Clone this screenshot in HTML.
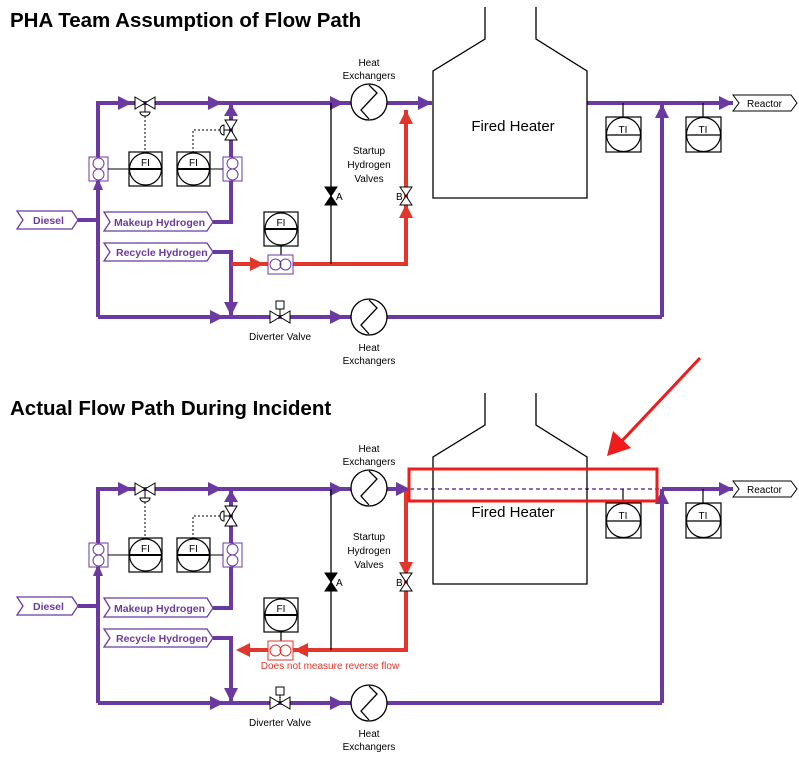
<!DOCTYPE html>
<html><head><meta charset="utf-8"><style>
html,body{margin:0;padding:0;background:#fff;}
svg{display:block;font-family:"Liberation Sans",sans-serif;}
</style></head><body>
<svg width="799" height="757" viewBox="0 0 799 757" xmlns="http://www.w3.org/2000/svg">
<text x="10" y="27" font-size="20.5" font-weight="bold" fill="#000">PHA Team Assumption of Flow Path</text>
<text x="10" y="415" font-size="20.5" font-weight="bold" fill="#000">Actual Flow Path During Incident</text>

<g id="top" fill="none" stroke-linejoin="miter">
  <g stroke="#6b3aa0" stroke-width="4">
    <polyline points="98,317 98,103 432,103"/>
    <line x1="78" y1="220" x2="98" y2="220"/>
    <polyline points="213,222 231,222 231,103"/>
    <polyline points="213,252 231,252 231,317"/>
    <line x1="98" y1="317" x2="662" y2="317"/>
    <line x1="662" y1="317" x2="662" y2="103"/>
    <line x1="587" y1="103" x2="733" y2="103"/>
  </g>
  <g stroke="#e0362b" stroke-width="4">
    <polyline points="231,264 406,264 406,110"/>
  </g>
  <g fill="#6b3aa0">
    <polygon points="93,190 98,178 103,190"/>
    <polygon points="118,96 132,103 118,110"/>
    <polygon points="208,96 222,103 208,110"/>
    <polygon points="224,116 231,104 238,116"/>
    <polygon points="330,96 344,103 330,110"/>
    <polygon points="418,96 432,103 418,110"/>
    <polygon points="210,310 224,317 210,324"/>
    <polygon points="224,302 231,316 238,302"/>
    <polygon points="330,310 344,317 330,324"/>
    <polygon points="655,118 662,104 669,118"/>
    <polygon points="719,96 733,103 719,110"/>
  </g>
  <g fill="#e0362b">
    <polygon points="250,257 264,264 250,271"/>
    <polygon points="399,124 406,110 413,124"/>
    <polygon points="399,218 406,204 413,218"/>
  </g>
  <line x1="331" y1="103" x2="331" y2="264" stroke="#000" stroke-width="1.3"/>
  <polygon points="325,187 337,187 331,196 325,205 337,205 331,196" fill="#000" stroke="#000"/>
  <text x="336" y="200" font-size="10" fill="#000" stroke="none">A</text>
  <polygon points="400,187 412,187 406,196 400,205 412,205 406,196" fill="#fff" stroke="#000"/>
  <text x="396" y="200" font-size="10" fill="#000" stroke="none">B</text>
  <circle cx="369" cy="102" r="18" fill="#fff" stroke="#000" stroke-width="1.3"/>
  <polyline points="369,85 377,93 361,110 369,119" stroke="#000" stroke-width="1.3"/>
  <text x="369" y="66" font-size="10" text-anchor="middle" fill="#000" stroke="none">Heat</text>
  <text x="369" y="79" font-size="10" text-anchor="middle" fill="#000" stroke="none">Exchangers</text>
  <g font-size="10" text-anchor="middle" fill="#000" stroke="none">
    <text x="369" y="154">Startup</text><text x="369" y="168">Hydrogen</text><text x="369" y="182">Valves</text>
  </g>
  <circle cx="369" cy="317" r="18" fill="#fff" stroke="#000" stroke-width="1.3"/>
  <polyline points="369,300 377,308 361,325 369,334" stroke="#000" stroke-width="1.3"/>
  <g font-size="10" text-anchor="middle" fill="#000" stroke="none">
    <text x="369" y="351">Heat</text><text x="369" y="364">Exchangers</text>
    <text x="280" y="340">Diverter Valve</text>
  </g>
  <polygon points="270,311 280,317 270,323 270,311" fill="#fff" stroke="#000"/>
  <polygon points="290,311 280,317 290,323 290,311" fill="#fff" stroke="#000"/>
  <line x1="280" y1="317" x2="280" y2="309" stroke="#000"/>
  <rect x="276" y="301" width="8" height="8" fill="#fff" stroke="#000"/>
  <polygon points="135,97 145,103 135,109" fill="#fff" stroke="#000"/>
  <polygon points="155,97 145,103 155,109" fill="#fff" stroke="#000"/>
  <line x1="145" y1="103" x2="145" y2="112" stroke="#000"/>
  <path d="M140,112 L150,112 A5,4 0 0 1 140,112 Z" fill="#fff" stroke="#000"/>
  <line x1="145" y1="116" x2="145" y2="152" stroke="#000" stroke-dasharray="2,2"/>
  <polygon points="225,120 237,120 231,130" fill="#fff" stroke="#000"/>
  <polygon points="225,140 237,140 231,130" fill="#fff" stroke="#000"/>
  <line x1="231" y1="130" x2="224" y2="130" stroke="#000"/>
  <path d="M224,125 L224,135 A4,5 0 0 1 224,125 Z" fill="#fff" stroke="#000"/>
  <polyline points="220,130 193,130 193,152" stroke="#000" stroke-dasharray="2,2"/>
  <rect x="89" y="157" width="19" height="24" fill="#fff" stroke="#6b3aa0"/>
  <circle cx="98.5" cy="163.5" r="5.5" stroke="#6b3aa0"/><circle cx="98.5" cy="174.5" r="5.5" stroke="#6b3aa0"/>
  <rect x="223" y="157" width="19" height="24" fill="#fff" stroke="#6b3aa0"/>
  <circle cx="232.5" cy="163.5" r="5.5" stroke="#6b3aa0"/><circle cx="232.5" cy="174.5" r="5.5" stroke="#6b3aa0"/>
  <line x1="108" y1="169" x2="129" y2="169" stroke="#000"/>
  <line x1="210" y1="169" x2="223" y2="169" stroke="#000"/>
  <g stroke="#000" stroke-width="1.2">
    <rect x="129" y="152" width="33" height="34" fill="#fff"/><circle cx="145.5" cy="169" r="16" fill="#fff"/><line x1="129.5" y1="169" x2="161.5" y2="169" stroke-width="2"/>
    <rect x="177" y="152" width="33" height="34" fill="#fff"/><circle cx="193.5" cy="169" r="16" fill="#fff"/><line x1="177.5" y1="169" x2="209.5" y2="169" stroke-width="2"/>
    <rect x="264" y="212" width="34" height="34" fill="#fff"/><circle cx="281" cy="229" r="16" fill="#fff"/><line x1="265" y1="229" x2="297" y2="229" stroke-width="2"/>
    <line x1="281" y1="246" x2="281" y2="255"/>
  </g>
  <g font-size="10" text-anchor="middle" fill="#000" stroke="none">
    <text x="145.5" y="166">FI</text><text x="193.5" y="166">FI</text><text x="281" y="226">FI</text>
  </g>
  <rect x="268" y="255" width="25" height="19" fill="#fff" stroke="#6b3aa0"/>
  <circle cx="275.5" cy="264.5" r="5.5" stroke="#6b3aa0"/><circle cx="285.5" cy="264.5" r="5.5" stroke="#6b3aa0"/>
  <g stroke="#6b3aa0" stroke-width="1.3" fill="#fff">
    <polygon points="17,211 72,211 78,220 72,229 17,229 23,220"/>
    <polygon points="104,212 207,212 213,222 207,231 104,231 110,222"/>
    <polygon points="104,243 207,243 213,252 207,261 104,261 110,252"/>
  </g>
  <g font-size="10.5" font-weight="bold" fill="#6b3aa0" stroke="none">
    <text x="33" y="224">Diesel</text>
    <text x="114" y="226">Makeup Hydrogen</text>
    <text x="116" y="256">Recycle Hydrogen</text>
  </g>
  <polygon points="733,95 791,95 797,103 791,111 733,111 739,103" fill="#fff" stroke="#000"/>
  <text x="747" y="107" font-size="10" fill="#000" stroke="none">Reactor</text>
  <polyline points="485,7 485,39 433,71 433,198 587,198 587,71 536,39 536,7" stroke="#000" stroke-width="1.3"/>
  <text x="513" y="131" font-size="15" text-anchor="middle" fill="#000" stroke="none">Fired Heater</text>
  <g stroke="#000" stroke-width="1.2">
    <line x1="623" y1="103" x2="623" y2="117"/>
    <rect x="606" y="117" width="35" height="35" fill="#fff"/><circle cx="623.5" cy="134.5" r="17" fill="#fff"/><line x1="606.5" y1="135" x2="640.5" y2="135"/>
    <line x1="703" y1="103" x2="703" y2="117"/>
    <rect x="686" y="117" width="35" height="35" fill="#fff"/><circle cx="703.5" cy="134.5" r="17" fill="#fff"/><line x1="686.5" y1="135" x2="720.5" y2="135"/>
  </g>
  <g font-size="10" text-anchor="middle" fill="#000" stroke="none">
    <text x="623" y="133">TI</text><text x="703" y="133">TI</text>
  </g>
</g>

<g transform="translate(0,386)" fill="none">
  <g stroke="#6b3aa0" stroke-width="4">
    <polyline points="98,317 98,103 406,103"/>
    <line x1="78" y1="220" x2="98" y2="220"/>
    <polyline points="213,222 231,222 231,103"/>
    <polyline points="213,252 231,252 231,317"/>
    <line x1="98" y1="317" x2="662" y2="317"/>
    <line x1="662" y1="317" x2="662" y2="103"/>
    <line x1="662" y1="103" x2="733" y2="103"/>
  </g>
  <line x1="410" y1="103" x2="662" y2="103" stroke="#6b3aa0" stroke-width="1.5" stroke-dasharray="4,3"/>
  <g stroke="#e0362b" stroke-width="4">
    <polyline points="406,103 406,264 240,264"/>
  </g>
  <g fill="#6b3aa0">
    <polygon points="93,190 98,178 103,190"/>
    <polygon points="118,96 132,103 118,110"/>
    <polygon points="208,96 222,103 208,110"/>
    <polygon points="224,116 231,104 238,116"/>
    <polygon points="330,96 344,103 330,110"/>
    <polygon points="396,96 410,103 396,110"/>
    <polygon points="210,310 224,317 210,324"/>
    <polygon points="224,302 231,316 238,302"/>
    <polygon points="330,310 344,317 330,324"/>
    <polygon points="655,118 662,104 669,118"/>
    <polygon points="719,96 733,103 719,110"/>
  </g>
  <g fill="#e0362b">
    <polygon points="250,257 236,264 250,271"/>
    <polygon points="308,257 294,264 308,271"/>
    <polygon points="399,176 406,190 413,176"/>
  </g>
  <line x1="331" y1="103" x2="331" y2="264" stroke="#000" stroke-width="1.3"/>
  <polygon points="325,187 337,187 331,196 325,205 337,205 331,196" fill="#000" stroke="#000"/>
  <text x="336" y="200" font-size="10" fill="#000">A</text>
  <polygon points="400,187 412,187 406,196 400,205 412,205 406,196" fill="#fff" stroke="#000"/>
  <text x="396" y="200" font-size="10" fill="#000">B</text>
  <circle cx="369" cy="102" r="18" fill="#fff" stroke="#000" stroke-width="1.3"/>
  <polyline points="369,85 377,93 361,110 369,119" stroke="#000" stroke-width="1.3"/>
  <g font-size="10" text-anchor="middle" fill="#000">
    <text x="369" y="66">Heat</text><text x="369" y="79">Exchangers</text>
    <text x="369" y="154">Startup</text><text x="369" y="168">Hydrogen</text><text x="369" y="182">Valves</text>
  </g>
  <circle cx="369" cy="317" r="18" fill="#fff" stroke="#000" stroke-width="1.3"/>
  <polyline points="369,300 377,308 361,325 369,334" stroke="#000" stroke-width="1.3"/>
  <g font-size="10" text-anchor="middle" fill="#000">
    <text x="369" y="351">Heat</text><text x="369" y="364">Exchangers</text>
    <text x="280" y="340">Diverter Valve</text>
  </g>
  <polygon points="270,311 280,317 270,323" fill="#fff" stroke="#000"/>
  <polygon points="290,311 280,317 290,323" fill="#fff" stroke="#000"/>
  <line x1="280" y1="317" x2="280" y2="309" stroke="#000"/>
  <rect x="276" y="301" width="8" height="8" fill="#fff" stroke="#000"/>
  <polygon points="135,97 145,103 135,109" fill="#fff" stroke="#000"/>
  <polygon points="155,97 145,103 155,109" fill="#fff" stroke="#000"/>
  <line x1="145" y1="103" x2="145" y2="112" stroke="#000"/>
  <path d="M140,112 L150,112 A5,4 0 0 1 140,112 Z" fill="#fff" stroke="#000"/>
  <line x1="145" y1="116" x2="145" y2="152" stroke="#000" stroke-dasharray="2,2"/>
  <polygon points="225,120 237,120 231,130" fill="#fff" stroke="#000"/>
  <polygon points="225,140 237,140 231,130" fill="#fff" stroke="#000"/>
  <line x1="231" y1="130" x2="224" y2="130" stroke="#000"/>
  <path d="M224,125 L224,135 A4,5 0 0 1 224,125 Z" fill="#fff" stroke="#000"/>
  <polyline points="220,130 193,130 193,152" stroke="#000" stroke-dasharray="2,2"/>
  <rect x="89" y="157" width="19" height="24" fill="#fff" stroke="#6b3aa0"/>
  <circle cx="98.5" cy="163.5" r="5.5" stroke="#6b3aa0"/><circle cx="98.5" cy="174.5" r="5.5" stroke="#6b3aa0"/>
  <rect x="223" y="157" width="19" height="24" fill="#fff" stroke="#6b3aa0"/>
  <circle cx="232.5" cy="163.5" r="5.5" stroke="#6b3aa0"/><circle cx="232.5" cy="174.5" r="5.5" stroke="#6b3aa0"/>
  <line x1="108" y1="169" x2="129" y2="169" stroke="#000"/>
  <line x1="210" y1="169" x2="223" y2="169" stroke="#000"/>
  <g stroke="#000" stroke-width="1.2">
    <rect x="129" y="152" width="33" height="34" fill="#fff"/><circle cx="145.5" cy="169" r="16" fill="#fff"/><line x1="129.5" y1="169" x2="161.5" y2="169" stroke-width="2"/>
    <rect x="177" y="152" width="33" height="34" fill="#fff"/><circle cx="193.5" cy="169" r="16" fill="#fff"/><line x1="177.5" y1="169" x2="209.5" y2="169" stroke-width="2"/>
    <rect x="264" y="212" width="34" height="34" fill="#fff"/><circle cx="281" cy="229" r="16" fill="#fff"/><line x1="265" y1="229" x2="297" y2="229" stroke-width="2"/>
    <line x1="281" y1="246" x2="281" y2="255"/>
  </g>
  <g font-size="10" text-anchor="middle" fill="#000">
    <text x="145.5" y="166">FI</text><text x="193.5" y="166">FI</text><text x="281" y="226">FI</text>
  </g>
  <rect x="268" y="255" width="25" height="19" fill="#fff" stroke="#e0362b"/>
  <circle cx="275.5" cy="264.5" r="5.5" stroke="#e0362b"/><circle cx="285.5" cy="264.5" r="5.5" stroke="#e0362b"/>
  <text x="330" y="283" font-size="10" text-anchor="middle" fill="#e0362b">Does not measure reverse flow</text>
  <g stroke="#6b3aa0" stroke-width="1.3" fill="#fff">
    <polygon points="17,211 72,211 78,220 72,229 17,229 23,220"/>
    <polygon points="104,212 207,212 213,222 207,231 104,231 110,222"/>
    <polygon points="104,243 207,243 213,252 207,261 104,261 110,252"/>
  </g>
  <g font-size="10.5" font-weight="bold" fill="#6b3aa0">
    <text x="33" y="224">Diesel</text>
    <text x="114" y="226">Makeup Hydrogen</text>
    <text x="116" y="256">Recycle Hydrogen</text>
  </g>
  <polygon points="733,95 791,95 797,103 791,111 733,111 739,103" fill="#fff" stroke="#000"/>
  <text x="747" y="107" font-size="10" fill="#000">Reactor</text>
  <polyline points="485,7 485,39 433,71 433,198 587,198 587,71 536,39 536,7" stroke="#000" stroke-width="1.3"/>
  <text x="513" y="131" font-size="15" text-anchor="middle" fill="#000">Fired Heater</text>
  <g stroke="#000" stroke-width="1.2">
    <line x1="623" y1="103" x2="623" y2="117"/>
    <rect x="606" y="117" width="35" height="35" fill="#fff"/><circle cx="623.5" cy="134.5" r="17" fill="#fff"/><line x1="606.5" y1="135" x2="640.5" y2="135"/>
    <line x1="703" y1="103" x2="703" y2="117"/>
    <rect x="686" y="117" width="35" height="35" fill="#fff"/><circle cx="703.5" cy="134.5" r="17" fill="#fff"/><line x1="686.5" y1="135" x2="720.5" y2="135"/>
  </g>
  <g font-size="10" text-anchor="middle" fill="#000">
    <text x="623" y="133">TI</text><text x="703" y="133">TI</text>
  </g>
  <rect x="409" y="83" width="248" height="32" stroke="#ee1c1c" stroke-width="3"/>
</g>
<line x1="700" y1="358" x2="620" y2="443" stroke="#ee1c1c" stroke-width="3"/>
<polygon points="607,456 613,431 631,448" fill="#ee1c1c"/>
</svg>
</body></html>
